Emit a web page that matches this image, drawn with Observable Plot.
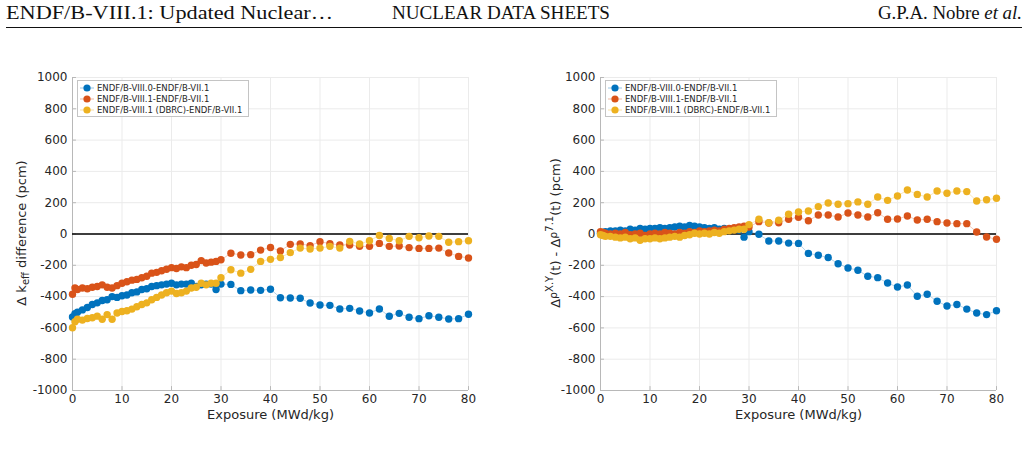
<!DOCTYPE html>
<html><head><meta charset="utf-8">
<script src="https://cdn.jsdelivr.net/npm/d3@7"></script>
<script src="https://cdn.jsdelivr.net/npm/@observablehq/plot@0.6"></script>
<style>
html,body{margin:0;padding:0;background:#fff;width:1029px;height:469px;overflow:hidden;position:relative}
#header{position:absolute;left:0;top:0}
.panel{position:absolute;top:60px}
#left{left:0}
#right{left:515px}
</style></head><body>
<svg id="header" width="1029" height="40" font-family="'Liberation Serif', serif" font-size="18" fill="#111">
  <text x="6" y="19" textLength="327" lengthAdjust="spacingAndGlyphs">ENDF/B-VIII.1: Updated Nuclear…</text>
  <text x="392" y="19" textLength="218" lengthAdjust="spacingAndGlyphs">NUCLEAR DATA SHEETS</text>
  <text x="878" y="19" textLength="144" lengthAdjust="spacingAndGlyphs">G.P.A. Nobre <tspan font-style="italic">et al.</tspan></text>
  <line x1="6" x2="1022" y1="27.5" y2="27.5" stroke="#111" stroke-width="1.2"/>
</svg>
<div id="left" class="panel"></div>
<div id="right" class="panel"></div>
<script>
// Exposure points (MWd/kg)
const exposure = [0, 0.5, 1, 2, 3, 4, 5, 6, 7, 8, 9, 10, 11, 12, 13, 14, 15, 16, 17, 18, 19, 20,
  21, 22, 23, 24, 25, 26, 27, 28, 29, 30, 32, 34, 36, 38, 40, 42, 44, 46, 48, 50, 52, 54, 56, 58,
  60, 62, 64, 66, 68, 70, 72, 74, 76, 78, 80];

// Left panel: Delta k_eff difference (pcm)
const keffVIII0 = [-530, -510, -500, -485, -470, -450, -440, -425, -420, -400, -405, -395, -390, -375,
  -370, -355, -350, -335, -330, -325, -320, -315, -325, -320, -320, -315, -335, -325, -320, -320,
  -355, -320, -322, -362, -358, -360, -353, -407, -409, -411, -441, -454, -456, -479, -475, -492,
  -505, -479, -526, -507, -532, -541, -522, -532, -543, -541, -513];
const keffVIII1 = [-385, -345, -355, -345, -350, -340, -335, -325, -340, -345, -330, -315, -305, -295,
  -290, -280, -270, -250, -245, -235, -225, -215, -220, -210, -215, -200, -195, -170, -185, -180,
  -175, -165, -123, -134, -132, -103, -86, -108, -66, -63, -74, -49, -62, -70, -70, -79,
  -79, -60, -79, -77, -87, -92, -92, -90, -121, -143, -153];
const keffDBRC = [-599, -560, -545, -550, -540, -535, -525, -545, -515, -545, -505, -495, -490, -480,
  -465, -450, -440, -420, -405, -390, -375, -365, -380, -375, -365, -345, -340, -315, -325, -315,
  -315, -280, -228, -250, -226, -175, -162, -150, -119, -90, -96, -90, -79, -90, -47, -64,
  -43, -9, -28, -43, -15, -24, -13, -15, -53, -49, -43];

// Right panel: Delta rho^{X.Y}(t) - Delta rho^{7.1}(t) (pcm)
const rhoVIII0 = [5, 10, 15, 20, 20, 25, 20, 30, 25, 35, 30, 35, 35, 40, 35, 40, 45, 50, 45, 55, 50,
  45, 40, 35, 40, 30, 35, 25, 30, 25, -20, 15, -2, -45, -45, -58, -60, -124, -136, -150, -190, -217,
  -232, -270, -279, -313, -339, -326, -398, -385, -430, -460, -450, -480, -505, -515, -490];
const rhoVIII1 = [15, 10, 5, 0, 5, 0, 10, -5, 0, 5, -10, 0, 5, 0, 10, 5, 0, 10, 5, 15, 10, 20, 15,
  20, 25, 20, 30, 35, 40, 45, 50, 45, 79, 70, 72, 94, 107, 85, 121, 121, 109, 134, 121, 109, 136,
  94, 96, 115, 89, 94, 79, 70, 66, 66, 13, -19, -34];
const rhoDBRC = [-5, -10, -15, -15, -20, -25, -20, -30, -25, -40, -30, -30, -25, -30, -25, -20, -15,
  -20, -10, -5, 5, 0, 5, 0, 10, 5, 15, 20, 25, 30, 30, 60, 94, 72, 88, 126, 141, 147, 175, 198,
  190, 194, 205, 190, 236, 215, 243, 281, 253, 236, 275, 260, 275, 271, 211, 219, 228];

const seriesNames = ["ENDF/B-VIII.0-ENDF/B-VII.1", "ENDF/B-VIII.1-ENDF/B-VII.1", "ENDF/B-VIII.1 (DBRC)-ENDF/B-VII.1"];
const seriesColors = ["#0072BD", "#D95319", "#EDB120"];
const xTicks = [0, 10, 20, 30, 40, 50, 60, 70, 80];
const yTicks = [-1000, -800, -600, -400, -200, 0, 200, 400, 600, 800, 1000];
const xLabel = "Exposure (MWd/kg)";

function panel(seriesList, width, marginLeft, marginRight) {
  const marks = [
    Plot.gridX(xTicks, {stroke: "#ebebeb", strokeOpacity: 1}),
    Plot.gridY(yTicks, {stroke: "#ebebeb", strokeOpacity: 1}),
    Plot.ruleX(xTicks, {y1: -1000, y2: -975, stroke: "#b8b8b8"}),
    Plot.ruleY(yTicks, {x1: 0, x2: 0.8, stroke: "#b8b8b8"}),
    Plot.ruleX([0], {stroke: "#b8b8b8"}),
    Plot.ruleY([-1000], {stroke: "#b8b8b8"}),
    Plot.ruleY([0], {x1: 0, x2: 80, stroke: "#000", strokeWidth: 1.5})
  ];
  seriesList.forEach((vals, s) => {
    const d = vals.map((v, i) => ({x: exposure[i], y: v}));
    marks.push(Plot.line(d, {x: "x", y: "y", stroke: seriesColors[s], strokeOpacity: 0.3, strokeWidth: 1}));
    marks.push(Plot.dot(d, {x: "x", y: "y", fill: seriesColors[s], r: 3.7, stroke: "none"}));
  });
  marks.push(Plot.axisX(xTicks, {tickSize: 0, tickPadding: 4, tickFormat: d => String(d),
    label: xLabel, labelAnchor: "center", labelOffset: 28, labelArrow: "none"}));
  marks.push(Plot.axisY(yTicks, {tickSize: 0, tickPadding: 5, tickFormat: d => String(d), label: null}));
  const svg = Plot.plot({
    width, height: 420, marginLeft, marginRight, marginTop: 17, marginBottom: 90,
    x: {domain: [0, 80]},
    y: {domain: [-1000, 1000]},
    style: {fontFamily: "'DejaVu Sans', sans-serif", fontSize: "12px", color: "#262626", background: "transparent"},
    marks
  });
  const lab = svg.querySelector('[aria-label="x-axis label"]');
  if (lab) lab.setAttribute("font-size", "13");
  // legend
  const g = d3.select(svg).append("g").attr("font-family", "'DejaVu Sans', sans-serif")
    .attr("font-size", 8.5).attr("fill", "#262626").attr("text-anchor", "start");
  const lx = marginLeft + 5, ly = 20;
  g.append("rect").attr("x", lx + 0.5).attr("y", ly + 0.5).attr("width", 171).attr("height", 36)
    .attr("fill", "#fff").attr("stroke", "#c4c4c4");
  seriesNames.forEach((name, i) => {
    const cy = ly + 8 + i * 11;
    g.append("line").attr("x1", lx + 3).attr("x2", lx + 17).attr("y1", cy).attr("y2", cy)
      .attr("stroke", seriesColors[i]).attr("stroke-opacity", 0.4);
    g.append("circle").attr("cx", lx + 10).attr("cy", cy).attr("r", 3.6).attr("fill", seriesColors[i]);
    g.append("text").attr("x", lx + 20).attr("y", cy).attr("dy", "0.35em").attr("text-anchor", "start").text(name);
  });
  return svg;
}

// Left panel
const left = panel([keffVIII0, keffVIII1, keffDBRC], 515, 72, 47);
{
  const t = d3.select(left).append("text").attr("transform", "translate(26,173) rotate(-90)")
    .attr("text-anchor", "middle").attr("font-family", "'DejaVu Sans', sans-serif")
    .attr("font-size", 13).attr("fill", "#262626");
  t.append("tspan").text("Δ k");
  t.append("tspan").attr("dy", 3).attr("font-size", 10).text("eff");
  t.append("tspan").attr("dy", -3).text(" difference (pcm)");
}
document.getElementById("left").appendChild(left);

// Right panel
const right = panel([rhoVIII0, rhoVIII1, rhoDBRC], 514, 85, 33);
{
  const t = d3.select(right).append("text").attr("transform", "translate(45,173) rotate(-90)")
    .attr("text-anchor", "middle").attr("font-family", "'DejaVu Sans', sans-serif")
    .attr("font-size", 13).attr("fill", "#262626");
  t.append("tspan").text("Δ");
  t.append("tspan").attr("dy", -3).attr("font-size", 11).text("ρ");
  t.append("tspan").attr("dy", -4).attr("font-size", 10).text("X.Y");
  t.append("tspan").attr("dy", 7).text("(t) - Δ");
  t.append("tspan").attr("dy", -3).attr("font-size", 11).text("ρ");
  t.append("tspan").attr("dy", -4).attr("font-size", 10).text("7.1");
  t.append("tspan").attr("dy", 7).text("(t) (pcm)");
}
document.getElementById("right").appendChild(right);
</script>
</body></html>
